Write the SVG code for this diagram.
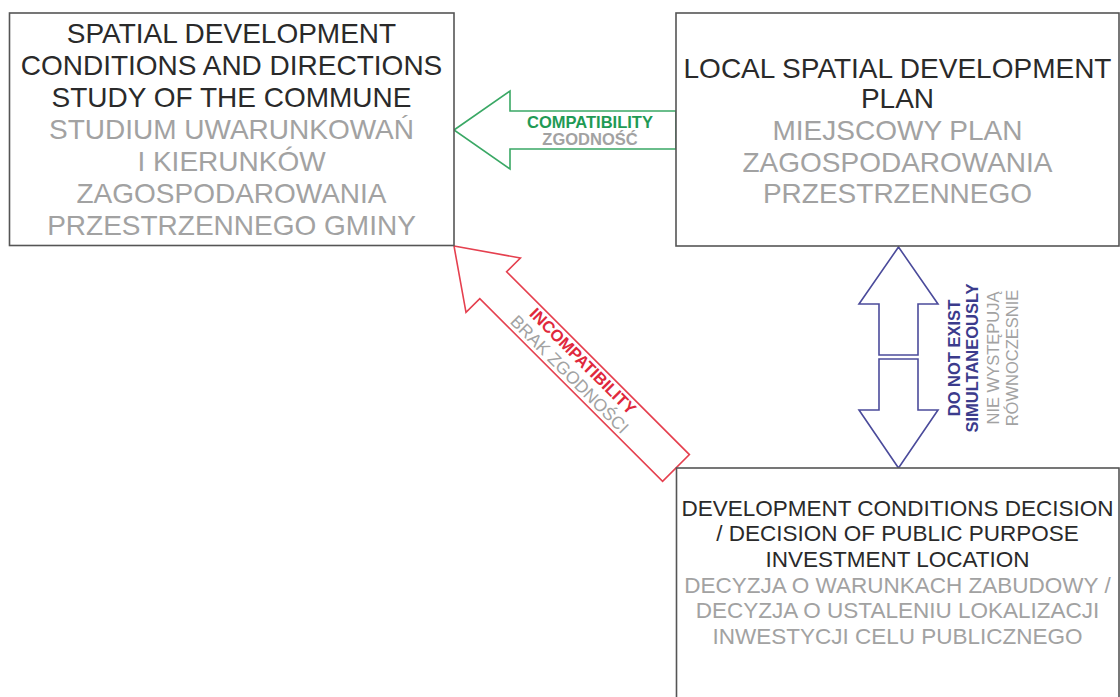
<svg xmlns="http://www.w3.org/2000/svg" width="1120" height="697" viewBox="0 0 1120 697">
<style>
.box{fill:#fff;stroke:#555;stroke-width:1.6}
.t{font-family:"Liberation Sans",Arial,sans-serif;text-anchor:middle}
.big{font-size:28px}
.mid{font-size:22.5px}
.en{fill:#2a2a2a}
.pl{fill:#a2a2a2}
.sm{font-size:16.5px}
.b{font-weight:bold}
.arr{fill:#fff;stroke-width:1.6;stroke-linejoin:miter}
</style>
<rect width="1120" height="697" fill="#fff"/>
<g id="connectors">
  <g id="compatibility">
    <polygon class="arr" stroke="#3aa865" points="454,130 510,91 510,111 676,111 676,149 510,149 510,169"/>
    <text class="t sm b" x="590" y="128" fill="#1f9a55">COMPATIBILITY</text>
    <text class="t sm b" x="590" y="145" fill="#a2a2a2">ZGODNOŚĆ</text>
  </g>
  <g id="incompatibility">
    <polygon class="arr" stroke="#e5404f" points="454,246 520.4,258 506.6,271.8 689.4,454.6 662.6,481.4 479.8,298.6 466,312.4"/>
    <g transform="translate(576,368) rotate(45)">
      <text class="t sm b" x="0" y="-4" fill="#e0283c">INCOMPATIBILITY</text>
      <text class="t" x="0" y="15" font-size="17.5" fill="#a2a2a2">BRAK ZGODNOŚCI</text>
    </g>
  </g>
  <g id="simultaneous">
    <polygon class="arr" stroke="#4b4b9b" points="898.5,247 938,304 918,304 918,355 879,355 879,304 859,304"/>
    <polygon class="arr" stroke="#4b4b9b" points="898.5,468 938,410 918,410 918,359 879,359 879,410 859,410"/>
    <g transform="translate(960,358) rotate(-90)">
      <text class="t sm b" x="0" y="0" fill="#3b3b8c">DO NOT EXIST</text>
      <text class="t sm b" x="0" y="18" fill="#3b3b8c">SIMULTANEOUSLY</text>
      <text class="t sm" x="0" y="39" fill="#a2a2a2">NIE WYSTĘPUJĄ</text>
      <text class="t sm" x="0" y="58" fill="#a2a2a2">RÓWNOCZESNIE</text>
    </g>
  </g>
</g>
<g id="study">
  <rect class="box" x="9.5" y="13" width="444.5" height="232.5"/>
  <text class="t big en" x="231.5" y="43">SPATIAL DEVELOPMENT</text>
  <text class="t big en" x="231.5" y="75">CONDITIONS AND DIRECTIONS</text>
  <text class="t big en" x="231.5" y="107">STUDY OF THE COMMUNE</text>
  <text class="t big pl" x="231.5" y="139">STUDIUM UWARUNKOWAŃ</text>
  <text class="t big pl" x="231.5" y="171">I KIERUNKÓW</text>
  <text class="t big pl" x="231.5" y="203">ZAGOSPODAROWANIA</text>
  <text class="t big pl" x="231.5" y="235">PRZESTRZENNEGO GMINY</text>
</g>
<g id="plan">
  <rect class="box" x="676" y="13" width="443" height="233"/>
  <text class="t big en" x="897.5" y="77.5">LOCAL SPATIAL DEVELOPMENT</text>
  <text class="t big en" x="897.5" y="108">PLAN</text>
  <text class="t big pl" x="897.5" y="140">MIEJSCOWY PLAN</text>
  <text class="t big pl" x="897.5" y="171.5">ZAGOSPODAROWANIA</text>
  <text class="t big pl" x="897.5" y="203">PRZESTRZENNEGO</text>
</g>
<g id="decision">
  <rect class="box" x="676.5" y="468" width="442.5" height="240"/>
  <text class="t mid en" x="897.5" y="515.5">DEVELOPMENT CONDITIONS DECISION</text>
  <text class="t mid en" x="897.5" y="541.2">/ DECISION OF PUBLIC PURPOSE</text>
  <text class="t mid en" x="897.5" y="566.9">INVESTMENT LOCATION</text>
  <text class="t mid pl" x="897.5" y="592.6">DECYZJA O WARUNKACH ZABUDOWY /</text>
  <text class="t mid pl" x="897.5" y="618.3">DECYZJA O USTALENIU LOKALIZACJI</text>
  <text class="t mid pl" x="897.5" y="644">INWESTYCJI CELU PUBLICZNEGO</text>
</g>
</svg>
